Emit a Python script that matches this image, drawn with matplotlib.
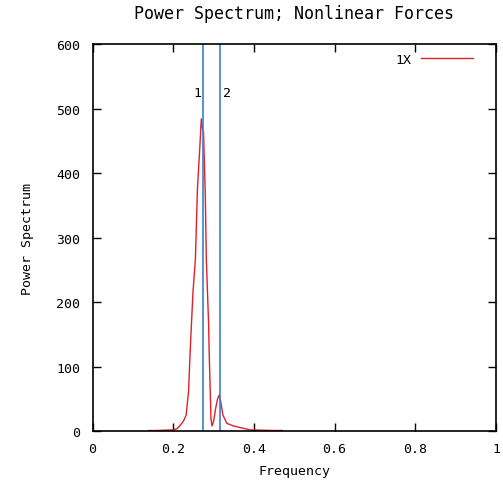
import matplotlib
matplotlib.use('Agg')
import matplotlib.pyplot as plt

# Power spectrum (gnuplot style chart)
freq = [0.14, 0.16, 0.18, 0.20, 0.21, 0.217, 0.225, 0.232, 0.238, 0.242,
        0.245, 0.249, 0.255, 0.260, 0.265, 0.2696, 0.272, 0.275, 0.2795,
        0.282, 0.2878, 0.289, 0.2935, 0.296, 0.300, 0.305, 0.310, 0.314,
        0.318, 0.323, 0.333, 0.349, 0.37, 0.39, 0.42, 0.45, 0.47]
power = [1, 1, 1.5, 2, 4, 9, 15, 25, 62, 124,
         164, 216, 267, 376, 430, 484, 470, 464, 365,
         267, 164, 124, 20, 8, 15, 35, 50, 56,
         45, 25, 12, 8, 5, 2, 1.5, 1, 1]

marker_freq = [0.275, 0.317]
marker_labels = ['1', '2']
series_label = '1X'

x_ticks = [0, 0.2, 0.4, 0.6, 0.8, 1]
x_tick_labels = ['0', '0.2', '0.4', '0.6', '0.8', '1']
y_ticks = [0, 100, 200, 300, 400, 500, 600]

mono = 'DejaVu Sans Mono'
fs = 9.5

fig = plt.figure(figsize=(5.03, 4.85), dpi=100)
ax = fig.add_axes([0.184, 0.109, 0.802, 0.798])

ax.plot(freq, power, color='#e0202a', lw=1.0, label=series_label)
for f in marker_freq:
    ax.axvline(f, color='#3a80d0', lw=1.2)
ax.text(marker_freq[0] - 0.006, 525, marker_labels[0], ha='right', va='center',
        family=mono, fontsize=fs)
ax.text(marker_freq[1] + 0.006, 525, marker_labels[1], ha='left', va='center',
        family=mono, fontsize=fs)

ax.set_xlim(0, 1)
ax.set_ylim(0, 600)
ax.set_xticks(x_ticks)
ax.set_xticklabels(x_tick_labels, family=mono, fontsize=fs)
ax.set_yticks(y_ticks)
ax.set_yticklabels([str(v) for v in y_ticks], family=mono, fontsize=fs)
ax.tick_params(axis='y', direction='in', right=True, length=6, width=1, pad=9)
ax.tick_params(axis='x', direction='in', top=True, length=6, width=1, pad=8)
for s in ax.spines.values():
    s.set_linewidth(1.2)

ax.set_xlabel('Frequency', family=mono, fontsize=fs, labelpad=6)
ax.set_ylabel('Power Spectrum', family=mono, fontsize=fs, labelpad=16)
ax.set_title('Power Spectrum; Nonlinear Forces', family=mono, fontsize=12,
             pad=19)

leg = ax.legend(loc='upper right', bbox_to_anchor=(0.942, 0.977),
                frameon=False, markerfirst=False, borderpad=0,
                borderaxespad=0, prop={'family': mono, 'size': fs},
                handlelength=3.9, handletextpad=0.75)

fig.savefig('out.png', dpi=100)
